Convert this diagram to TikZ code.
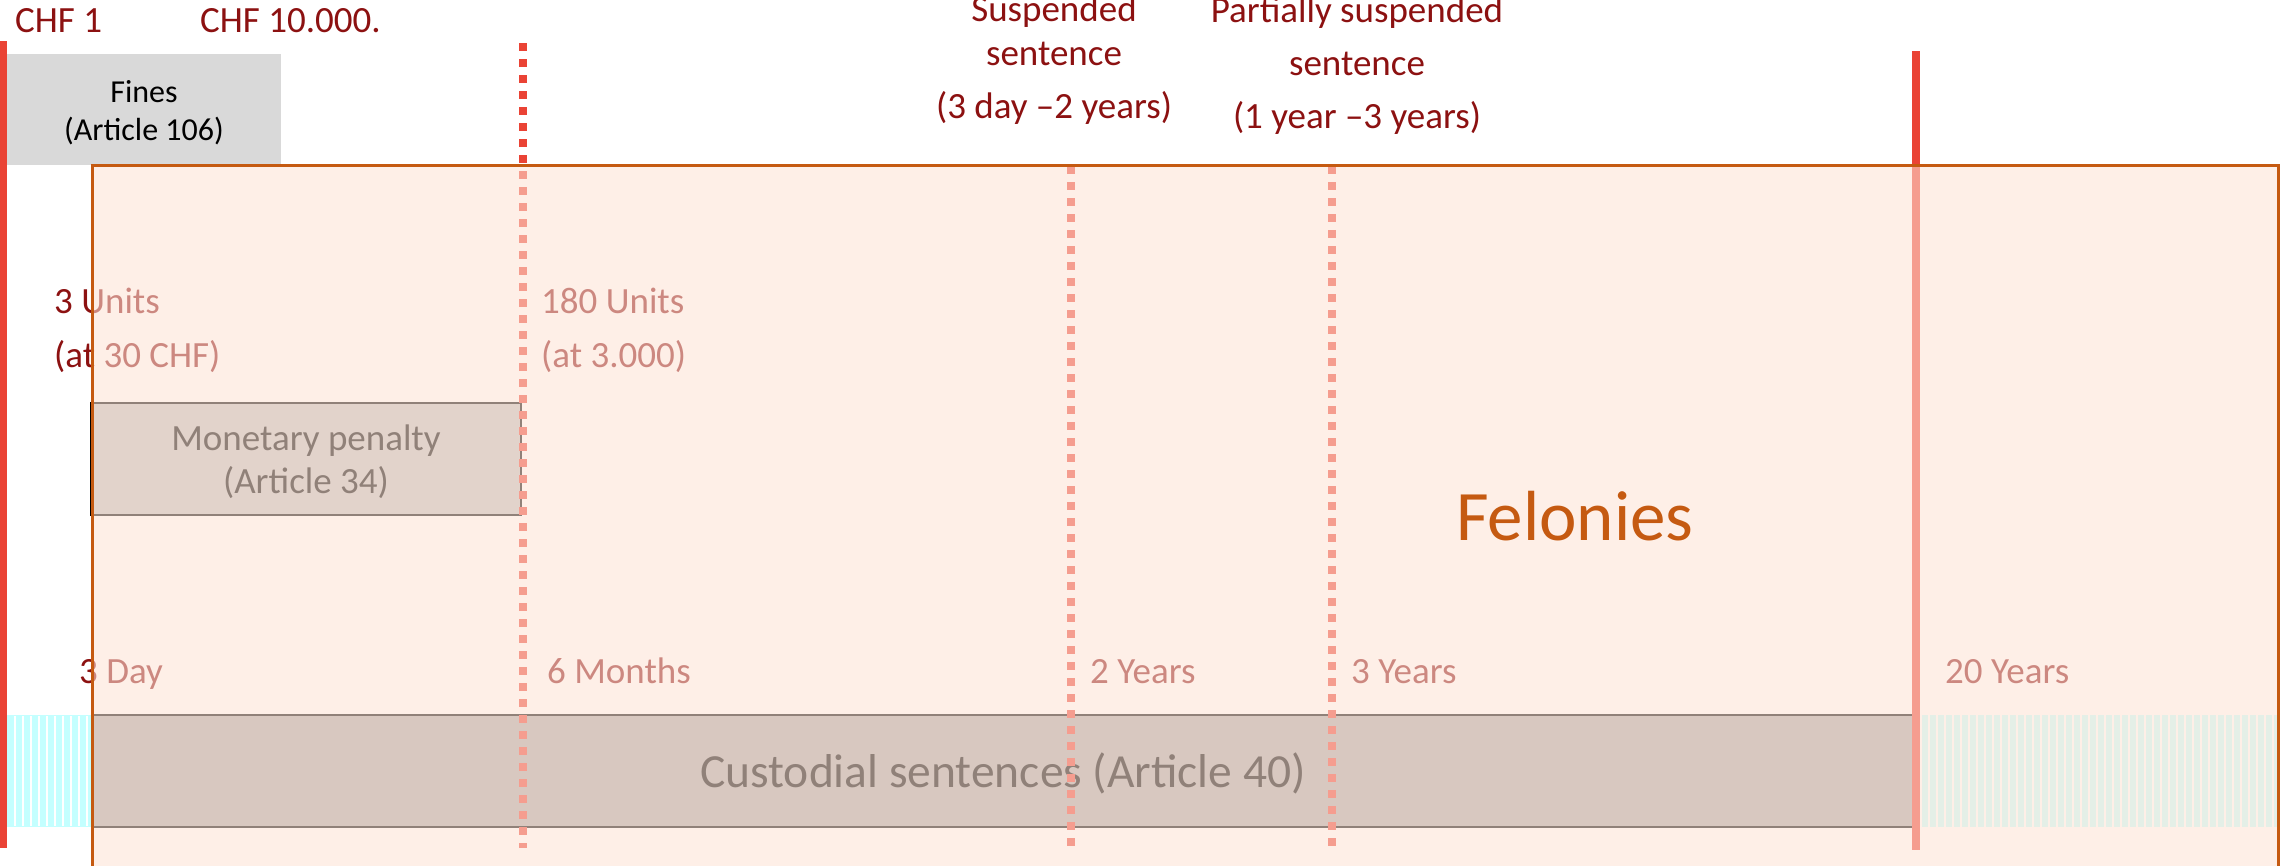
\documentclass[tikz,border=0pt]{standalone}
\usepackage{fontspec}
\setmainfont{Carlito}
\definecolor{txtred}{RGB}{140,17,17}
\definecolor{rulered}{RGB}{234,67,53}
\definecolor{felfill}{RGB}{254,227,213}
\definecolor{felorange}{HTML}{C55A11}
\definecolor{finesgray}{HTML}{D9D9D9}
\definecolor{custgray}{HTML}{A6A6A6}
\definecolor{monegray}{HTML}{BFBFBF}
\definecolor{stripecyan}{HTML}{C4FFFF}
\begin{document}
\begin{tikzpicture}[x=1pt,y=-1pt,
  every node/.style={inner sep=0pt},
  lbl/.style={anchor=base west, text=txtred, font=\fontsize{37}{44}\selectfont},
  clbl/.style={anchor=base, text=txtred, font=\fontsize{37}{44}\selectfont},
  boxtxt/.style={anchor=base, text=black, font=\fontsize{37}{44}\selectfont},
  finestxt/.style={anchor=base, text=black, font=\fontsize{32}{38}\selectfont},
  solidrule/.style={draw=rulered, line width=#1},
  dotrule/.style={draw=rulered, line width=7.5pt, dash pattern=on 8pt off 8pt},
  sentbox/.style={draw=black, line width=2pt}
]
\useasboundingbox (0,0) rectangle (2280,865);

% Fines band above the chart
\fill[finesgray] (7,54) rectangle (281,165);
\node[finestxt] (fines1) at (144,102) {Fines};
\node[finestxt] (fines2) at (144,140) {(Article 106)};

% Range limits of fines
\node[lbl] (chfmin) at (15,32) {CHF 1};
\node[lbl] (chfmax) at (200,32) {CHF 10.000.};

% Hatched lead-in and tail of the custodial bar
\foreach \x in {8,16,...,88}
  \fill[stripecyan] (\x,715) rectangle ({min(\x+5.5,92)},827);
\draw[stripecyan, line width=1pt] (7.5,715.5) rectangle (92,826.5);
\foreach \x in {1922,1930,...,2274}
  \fill[stripecyan] (\x,715) rectangle ({min(\x+5.5,2277)},827);

% Penalty bars
\filldraw[sentbox, fill=custgray] (92,715) rectangle (1914,827);
\node[boxtxt, font=\fontsize{47.5}{56}\selectfont] (cust) at (1003,787) {Custodial sentences (Article 40)};
\filldraw[sentbox, fill=monegray] (91,403) rectangle (521,515);
\node[boxtxt] (mon1) at (306,450) {Monetary penalty};
\node[boxtxt] (mon2) at (306,493) {(Article 34)};

% Vertical markers
\draw[solidrule=7pt] (3.5,41) -- (3.5,848);
\draw[dotrule] (523,43) -- (523,848);
\draw[dotrule] (1071,166) -- (1071,848);
\draw[dotrule] (1332,166) -- (1332,848);
\draw[solidrule=8pt] (1916,51) -- (1916,850);

% Suspension ranges
\node[clbl] (susp1) at (1054,21) {Suspended};
\node[clbl] (susp2) at (1054,65) {sentence};
\node[clbl] (susp3) at (1054,118) {(3 day --2 years)};
\node[clbl] (part1) at (1357,22) {Partially suspended};
\node[clbl] (part2) at (1357,75) {sentence};
\node[clbl] (part3) at (1357,128) {(1 year --3 years)};

% Unit limits of the monetary penalty
\node[lbl] (umin1) at (54,313) {3 Units};
\node[lbl] (umin2) at (54,367) {(at 30 CHF)};
\node[lbl] (umax1) at (541,313) {180 Units};
\node[lbl] (umax2) at (541,367) {(at 3.000)};

% Duration ticks
\node[lbl] (d3) at (79,683) {3 Day};
\node[lbl] (m6) at (547,683) {6 Months};
\node[lbl] (y2) at (1090,683) {2 Years};
\node[lbl] (y3) at (1351,683) {3 Years};
\node[lbl] (y20) at (1945,683) {20 Years};

% Felonies area, translucent over everything beneath it
\fill[felfill, fill opacity=0.57] (92,165) rectangle (2279,870);
\draw[felorange, line width=3pt] (92.5,870) |- (2278.5,165.5) -- (2278.5,870);
\node[anchor=base west, text=felorange, font=\fontsize{71}{85}\selectfont] (felonies) at (1456,540) {Felonies};
\end{tikzpicture}
\end{document}
